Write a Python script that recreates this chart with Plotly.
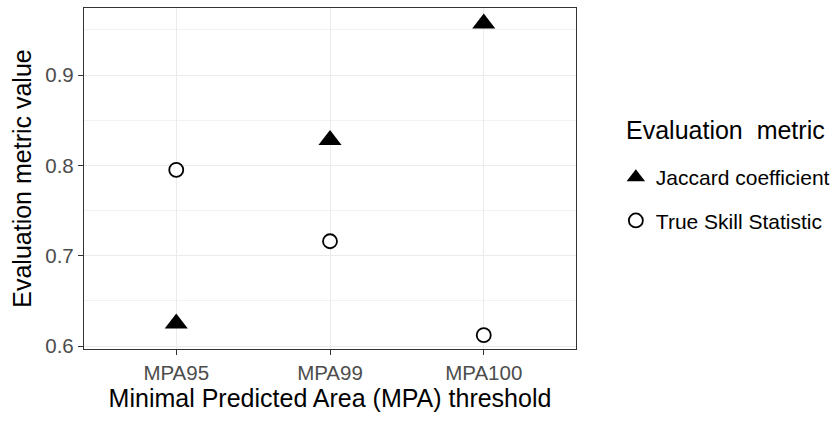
import plotly.graph_objects as go

categories = ["MPA95", "MPA99", "MPA100"]
jaccard = [0.625, 0.828, 0.957]
tss = [0.795, 0.716, 0.612]
y_ticks = [0.6, 0.7, 0.8, 0.9]
y_tick_labels = ["0.6", "0.7", "0.8", "0.9"]

FONT = "Liberation Sans, Arial, sans-serif"

fig = go.Figure()
fig.add_trace(go.Scatter(
    x=categories, y=jaccard, mode="markers", name="Jaccard coefficient",
    legendgroup="a",
    marker=dict(symbol="triangle-up", size=20, color="black",
                line=dict(width=0)),
))
fig.add_trace(go.Scatter(
    x=categories, y=tss, mode="markers", name="True Skill Statistic",
    legendgroup="b",
    marker=dict(symbol="circle", size=14, color="white",
                line=dict(width=1.8, color="black")),
))

fig.update_layout(
    width=835, height=421,
    margin=dict(l=84, r=259, t=8, b=72, autoexpand=False),
    paper_bgcolor="white", plot_bgcolor="white",
    font=dict(family=FONT, color="black"),
    showlegend=True,
    legend=dict(
        font=dict(size=21, color="black"),
        x=1.081, xanchor="left", y=0.563, yanchor="top",
        tracegroupgap=13,
        bgcolor="rgba(0,0,0,0)",
    ),
    annotations=[dict(
        text="Evaluation\u00a0 metric", xref="paper", yref="paper",
        x=1.0976, y=0.642, xanchor="left", yanchor="middle",
        showarrow=False, font=dict(size=25, color="black"),
    )],
)
fig.update_xaxes(
    type="category", categoryorder="array", categoryarray=categories,
    range=[-0.6, 2.6], automargin=False,
    showgrid=True, gridcolor="#EBEBEB", gridwidth=1.3,
    showline=True, linecolor="#333333", linewidth=1.3, mirror=True,
    ticks="outside", ticklen=5, tickcolor="#333333", tickwidth=1.3,
    tickfont=dict(size=20.5, color="#4D4D4D"),
    title=dict(text="Minimal Predicted Area (MPA) threshold",
               font=dict(size=25, color="black"), standoff=6),
    zeroline=False,
)
fig.update_yaxes(
    range=[0.5967, 0.9743], automargin=False,
    tickvals=y_ticks, ticktext=y_tick_labels,
    showgrid=True, gridcolor="#EBEBEB", gridwidth=1.3,
    minor=dict(dtick=0.05, tick0=0.6, showgrid=True, gridcolor="#F2F2F2",
               gridwidth=0.8, ticks=""),
    showline=True, linecolor="#333333", linewidth=1.3, mirror=True,
    ticks="outside", ticklen=5, tickcolor="#333333", tickwidth=1.3,
    tickfont=dict(size=20.5, color="#4D4D4D"),
    title=dict(text="Evaluation metric value",
               font=dict(size=25, color="black"), standoff=6),
    zeroline=False,
)

fig.write_html("out.html", config={"displayModeBar": False},
               post_script="document.body.style.margin='0';")
